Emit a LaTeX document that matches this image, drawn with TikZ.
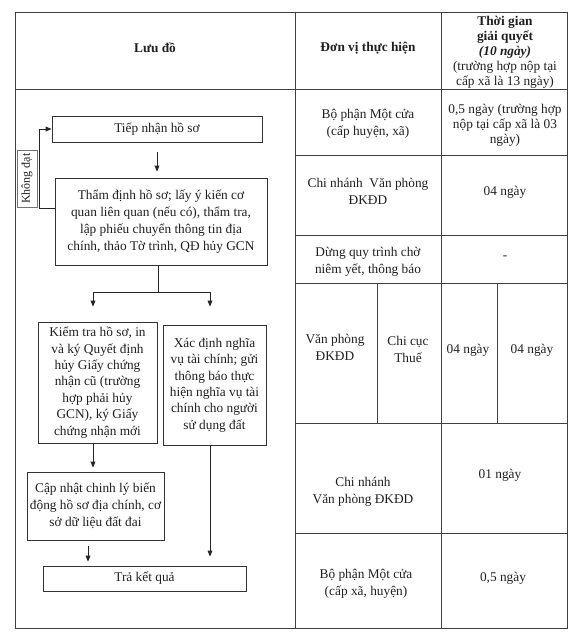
\documentclass[tikz,border=0pt]{standalone}
\usepackage{fontspec}
\setmainfont{Liberation Serif}
\usetikzlibrary{arrows.meta, positioning}

\newcommand{\pxl}[1]{#1*0.75pt}

\begin{document}
\begin{tikzpicture}[
  x=0.75pt, y=-0.75pt,
  txt/.style={font=\fontsize{10pt}{12.75pt}\selectfont, align=center,
              inner sep=1pt, text=black!88},
  hdr/.style={txt, font=\fontsize{10pt}{11.25pt}\selectfont},
  box/.style={txt, draw=black!80, line width=0.6pt},
  lbl/.style={txt, draw=black!55, line width=0.4pt, inner sep=1pt,
              font=\fontsize{9pt}{10pt}\selectfont},
  arr/.style={-{Triangle[length=4.5pt, width=3.6pt]}, line width=0.6pt, black!85},
  conn/.style={line width=0.6pt, black!85},
  rule/.style={line width=0.5pt, black!75}
]
\useasboundingbox (0,0) rectangle (576,640);

% table frame
\draw[rule] (15,12) rectangle (567,628);
\draw[rule] (15,89) -- (567,89);
\draw[rule] (295,12) -- (295,628);
\draw[rule] (441,12) -- (441,628);
\foreach \y in {155,235,283,423,533}
  \draw[rule] (295,\y) -- (567,\y);
\foreach \x in {377,497}
  \draw[rule] (\x,283) -- (\x,423);

% header
\node[hdr, font=\fontsize{10pt}{11.25pt}\selectfont\bfseries] (hflow) at (155,48) {Lưu đồ};
\node[hdr, font=\fontsize{10pt}{11.25pt}\selectfont\bfseries] (hunit) at (368,48) {Đơn vị thực hiện};
\node[hdr] (htime) at (505,52) {\textbf{Thời gian}\\\textbf{giải quyết}\\\textbf{\textit{(10 ngày)}}\\(trường hợp nộp tại\\cấp xã là 13 ngày)};

% flow chart
\node[box, minimum width=\pxl{210}, minimum height=\pxl{26}] (tiep) at (157,129) {Tiếp nhận hồ sơ};
\node[box, minimum width=\pxl{212}, minimum height=\pxl{87}] (thamdinh) at (161,221.5)
  {Thẩm định hồ sơ; lấy ý kiến cơ\\quan liên quan (nếu có), thẩm tra,\\lập phiếu chuyển thông tin địa\\chính, thảo Tờ trình, QĐ hủy GCN};
\node[box, font=\fontsize{10pt}{12.3pt}\selectfont, minimum width=\pxl{119}, minimum height=\pxl{121}] (kiemtra) at (97.5,382.5)
  {Kiểm tra hồ sơ, in\\và ký Quyết định\\hủy Giấy chứng\\nhận cũ (trường\\hợp phải hủy\\GCN), ký Giấy\\chứng nhận mới};
\node[box, font=\fontsize{10pt}{12.3pt}\selectfont, minimum width=\pxl{103}, minimum height=\pxl{120}] (xacdinh) at (214.5,385)
  {Xác định nghĩa\\vụ tài chính; gửi\\thông báo thực\\hiện nghĩa vụ tài\\chính cho người\\sử dụng đất};
\node[box, minimum width=\pxl{137}, minimum height=\pxl{68}, inner sep=0pt] (capnhat) at (95.5,506)
  {Cập nhật chinh lý biến\\động hồ sơ địa chính, cơ\\sở dữ liệu đất đai};
\node[box, minimum width=\pxl{203}, minimum height=\pxl{25}] (trakq) at (144.5,578.5) {Trả kết quả};
\node[lbl, rotate=90, minimum width=\pxl{57}, minimum height=\pxl{20}] (khongdat) at (27,178.5) {Không đạt};

\coordinate (split) at (158,292);
\coordinate (sl) at (93,292);
\coordinate (sr) at (210,292);

\draw[arr, shorten <=\pxl{10}, shorten >=\pxl{6}] (tiep.south) -- (tiep.south |- thamdinh.north);
\draw[conn] (thamdinh.south -| split) -- (split);
\draw[conn] (sl) -- (sr);
\draw[arr, shorten >=\pxl{15}] (sl) -- (sl |- kiemtra.north);
\draw[arr, shorten >=\pxl{18}] (sr) -- (sr |- xacdinh.north);
\draw[arr, shorten >=\pxl{4}] (kiemtra.south -| sl) -- (capnhat.north -| sl);
\draw[arr, shorten <=\pxl{6}, shorten >=\pxl{4}] (capnhat.south -| 88,0) -- (trakq.north -| 88,0);
\draw[arr, shorten >=\pxl{9}] (xacdinh.south -| sr) -- (trakq.north -| sr);
\draw[arr] ([yshift=10pt]thamdinh.west) -- ++(-15,0) |- (tiep.west);

% unit and time cells
\node[txt] (u1) at (368,124) {Bộ phận Một cửa\\(cấp huyện, xã)};
\node[hdr] (t1) at (505,125) {0,5 ngày (trường hợp\\nộp tại cấp xã là 03\\ngày)};
\node[txt] (u2) at (368,191.5) {Chi nhánh\ \ Văn phòng\\ĐKĐD};
\node[txt] (t2) at (505,192) {04 ngày};
\node[txt] (u3) at (368,261.5) {Dừng quy trình chờ\\niêm yết, thông báo};
\node[txt] (t3) at (505,258) {-};
\node[txt] (u4a) at (335,347.5) {Văn phòng\\ĐKĐD};
\node[txt] (u4b) at (408,349.5) {Chi cục\\Thuế};
\node[txt] (t4a) at (468,350) {04 ngày};
\node[txt] (t4b) at (532,350) {04 ngày};
\node[txt] (u5) at (363,491.5) {Chi nhánh\\Văn phòng ĐKĐD};
\node[txt] (t5) at (500,475) {01 ngày};
\node[txt] (u6) at (366,583.5) {Bộ phận Một cửa\\(cấp xã, huyện)};
\node[txt] (t6) at (503,578) {0,5 ngày};
\end{tikzpicture}
\end{document}
